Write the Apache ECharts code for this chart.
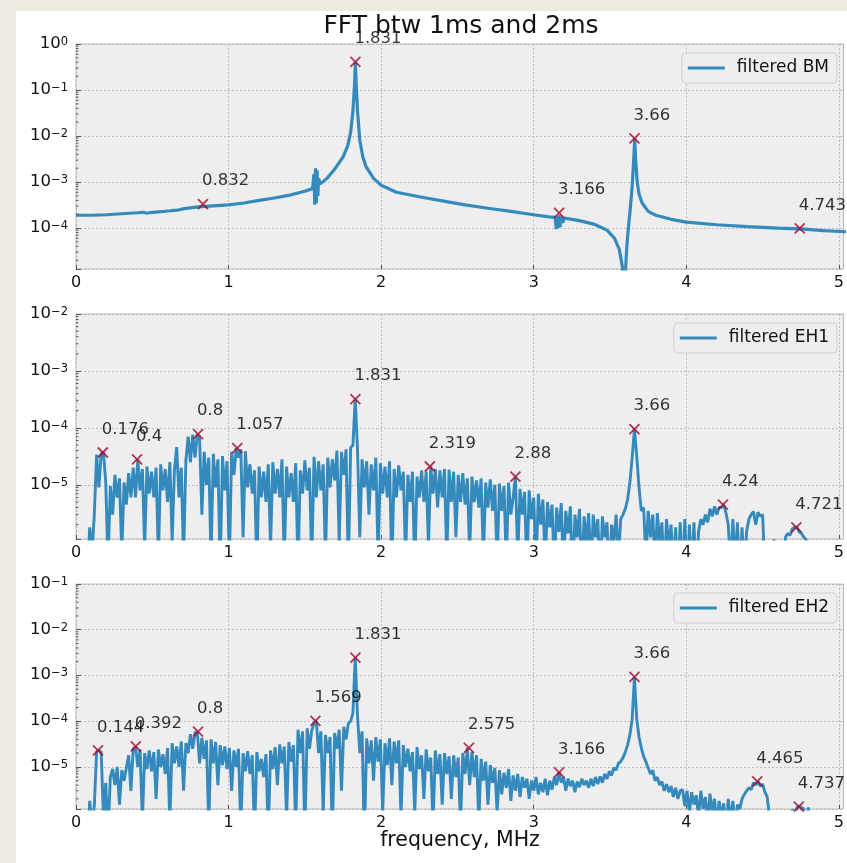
<!DOCTYPE html>
<html><head><meta charset="utf-8">
<script src="https://cdn.jsdelivr.net/npm/echarts@6/dist/echarts.min.js"></script>
<style>
html,body{margin:0;padding:0;background:#eeeae4;width:847px;height:863px;overflow:hidden;}
#paper{position:absolute;left:16px;top:11px;width:831px;height:852px;background:#ffffff;}
#c{position:absolute;left:0;top:0;width:847px;height:863px;}
</style>
</head><body><div id="paper"></div><div id="c"></div>
<script>
const FONT = 'DejaVu Sans';
const TITLE = 'FFT btw 1ms and 2ms';
const X_LABEL = 'frequency, MHz';
const SERIES_NAMES = ['filtered BM', 'filtered EH1', 'filtered EH2'];
const X_MIN = 0, X_MAX = 5.03, X_STEP = 1;
const Y_MIN = [1.29e-5, 1.12e-6, 1.2e-6];
const Y_MAX = [1, 1e-2, 1e-1];

// ---- BM (filtered): frequency (MHz) and amplitude
const bmFreq = [0,0.1,0.2,0.3,0.4,0.44,0.45,0.46,0.47,0.48,0.49,0.5,0.51,0.52,0.53,0.54,0.55,0.56,0.57,0.58,0.59,0.6,0.61,0.62,0.63,0.64,0.65,0.66,0.67,0.68,0.7,0.8,0.9,1.0,1.1,1.2,1.3,1.4,1.5,1.55,1.56,1.565,1.57,1.575,1.58,1.585,1.59,1.6,1.65,1.7,1.75,1.78,1.8,1.815,1.825,1.831,1.837,1.845,1.86,1.88,1.9,1.95,2.0,2.1,2.25,2.4,2.55,2.7,2.85,3.0,3.1,3.14,3.148,3.155,3.16,3.166,3.172,3.18,3.19,3.2,3.3,3.4,3.48,3.53,3.56,3.58,3.59,3.6,3.61,3.62,3.632,3.645,3.655,3.662,3.668,3.678,3.69,3.71,3.75,3.8,3.9,4.0,4.2,4.4,4.6,4.75,4.9,5.05];
const bmAmp = [1.9e-4,1.9e-4,1.95e-4,2.05e-4,2.15e-4,2.2e-4,2.32e-4,2.12e-4,2.3e-4,2.15e-4,2.35e-4,2.2e-4,2.4e-4,2.22e-4,2.42e-4,2.25e-4,2.45e-4,2.28e-4,2.48e-4,2.3e-4,2.5e-4,2.35e-4,2.52e-4,2.38e-4,2.55e-4,2.42e-4,2.58e-4,2.45e-4,2.6e-4,2.5e-4,2.62e-4,2.9e-4,3.05e-4,3.2e-4,3.5e-4,4.0e-4,4.5e-4,5.2e-4,6.3e-4,7.2e-4,1.5e-3,3.2e-4,2.0e-3,3.5e-4,1.8e-3,5e-4,1.2e-3,9e-4,1.25e-3,2.0e-3,3.5e-3,6e-3,1.2e-2,3.5e-2,0.12,0.41,0.12,3.5e-2,8e-3,3.5e-3,2.2e-3,1.2e-3,8.5e-4,6e-4,4.8e-4,3.9e-4,3.2e-4,2.7e-4,2.3e-4,1.95e-4,1.75e-4,1.7e-4,9.5e-5,1.8e-4,1.0e-4,1.9e-4,1.05e-4,1.75e-4,1.3e-4,1.65e-4,1.45e-4,1.2e-4,9e-5,6e-5,3.5e-5,1.5e-5,6e-6,1.0e-5,4e-5,1.0e-4,2.5e-4,8e-4,3e-3,8.9e-3,3e-3,1e-3,5.5e-4,3.5e-4,2.3e-4,1.9e-4,1.55e-4,1.35e-4,1.18e-4,1.08e-4,1.0e-4,9.6e-5,8.8e-5,8.3e-5];
const bmPeakFreq = [0.832, 1.831, 3.166, 3.66, 4.743];
const bmPeakAmp = [3.3e-4, 0.41, 2.15e-4, 8.9e-3, 9.8e-5];
const bmPeakLabel = ['0.832', '1.831', '3.166', '3.66', '4.743'];

// ---- EH spectra: FFT bins k*0.015 MHz starting at bin 5; amplitudes in units of 1e-7
const EH_BIN0 = 5, EH_BIN_WIDTH = 0.015, EH_UNIT = 1e-7;
const eh1Amp = [
3,18,6,30,340,90,350,370,110,4,95,30,150,60,130,6,110,45,160,60,
200,60,280,80,190,8,210,70,170,60,200,5,230,80,190,50,250,10,180,460,
60,200,5,260,700,250,760,300,780,650,30,380,100,300,5,350,90,280,3,320,
80,260,4,380,150,440,300,420,12,390,90,230,70,180,3,210,60,170,50,230,
8,250,70,190,60,280,4,210,60,160,50,240,3,180,70,270,80,200,4,310,
60,260,80,230,5,300,90,280,120,400,10,380,150,420,3,450,500,3200,420,12,
280,90,260,30,230,80,300,5,240,70,210,60,260,3,190,60,220,80,170,5,
150,50,170,3,140,60,180,50,170,8,210,70,190,40,180,60,190,5,185,50,
170,12,150,50,160,45,130,6,140,50,120,40,130,5,110,40,125,35,100,4,
105,35,95,4,110,30,60,140,5,85,30,75,3,80,25,60,3,70,20,55,
4,50,18,45,3,40,15,48,3,35,14,42,2,30,12,38,2,28,10,32,
3,30,12,25,2,28,12,22,2,20,10,30,5,25,30,38,55,110,300,950,
320,90,35,40,5,35,12,30,4,32,10,22,2,25,8,20,3,18,2,22,
2,25,2,20,3,22,2,15,25,20,30,22,38,28,42,30,40,40,45,32,
20,3,25,4,22,2,18,3,15,25,30,34,20,33,28,30,3,2,2,2,
11,3,2,2,2,12,14,13,17,18,18,15,14,12,11,3,2,2,2,2,
2,2,2,2,2,2,2,2,2,2];
const eh1PeakFreq = [0.176, 0.4, 0.8, 1.057, 1.831, 2.319, 2.88, 3.66, 4.24, 4.721];
const eh1PeakAmp = [3.7e-5, 2.8e-5, 7.8e-5, 4.4e-5, 3.2e-4, 2.1e-5, 1.4e-5, 9.5e-5, 4.5e-6, 1.8e-6];
const eh1PeakLabel = ['0.176', '0.4', '0.8', '1.057', '1.831', '2.319', '2.88', '3.66', '4.24', '4.721'];

const eh2Amp = [
3,18,5,14,215,230,210,8,45,3,60,90,40,100,15,85,50,95,180,30,
250,280,100,240,6,200,90,230,80,210,20,240,100,190,70,260,6,330,120,280,
100,360,30,330,200,520,250,560,590,120,430,150,380,5,400,120,350,40,300,110,
280,90,260,30,230,100,250,4,200,80,220,70,180,3,210,80,150,60,190,3,
230,90,270,40,310,120,280,8,350,130,300,5,650,200,600,3,700,250,620,900,
1020,200,600,10,500,200,450,3,550,250,650,30,750,400,900,1000,1500,24500,1300,200,
600,2,420,120,380,50,450,130,400,10,330,110,420,40,360,120,380,8,300,100,
250,80,210,10,270,90,180,20,240,80,160,5,230,70,190,15,200,70,170,20,
180,60,160,5,200,70,260,40,210,60,180,6,150,50,130,15,110,45,95,10,
85,25,75,35,90,18,65,30,70,22,60,35,55,20,50,30,60,25,45,28,
55,24,50,32,60,40,76,45,60,30,55,38,50,28,48,36,55,40,50,35,
55,38,60,42,62,45,70,55,80,65,95,85,120,130,160,210,300,500,1100,9300,
1100,450,260,170,130,95,70,85,50,60,40,48,30,42,28,38,22,35,20,30,
32,14,30,10,28,15,24,8,30,12,22,6,26,10,20,5,18,8,16,4,
20,6,18,5,15,12,20,25,30,35,32,45,40,48,38,42,28,22,8,3,
2,2,2,2,2,2,2,2,12,6,13,14,13,12,5,13,3,2,2,2,
2,2,2,2,2,2,2,2,2,2];
const eh2PeakFreq = [0.144, 0.392, 0.8, 1.569, 1.831, 2.575, 3.166, 3.66, 4.465, 4.737];
const eh2PeakAmp = [2.3e-5, 2.8e-5, 5.9e-5, 1.02e-4, 2.45e-3, 2.6e-5, 7.6e-6, 9.3e-4, 4.8e-6, 1.35e-6];
const eh2PeakLabel = ['0.144', '0.392', '0.8', '1.569', '1.831', '2.575', '3.166', '3.66', '4.465', '4.737'];

// ---- build
const zipXY = (xs, ys) => xs.map((x, i) => [x, ys[i]]);
const ehPairs = (amp) => amp.map((a, i) => [+((EH_BIN0 + i) * EH_BIN_WIDTH).toFixed(3), a * EH_UNIT]);

const lines = [zipXY(bmFreq, bmAmp), ehPairs(eh1Amp), ehPairs(eh2Amp)];
const peaks = [
  {f: bmPeakFreq, a: bmPeakAmp, l: bmPeakLabel},
  {f: eh1PeakFreq, a: eh1PeakAmp, l: eh1PeakLabel},
  {f: eh2PeakFreq, a: eh2PeakAmp, l: eh2PeakLabel}
];

const LINE_COLOR = '#348ABD', MARK_COLOR = '#A60628', TXT = '#000000';
const GRID_TOPS = [44, 314, 584], GRID_H = 225;
const LEGEND_TOPS = [53, 323, 593];

function logLabel(v) {
  const e = Math.log10(v), r = Math.round(e);
  if (Math.abs(e - r) > 1e-6) return '';
  return '{b|10}{s|' + (r < 0 ? '\u2212' + (-r) : String(r)) + '}';
}
// log minor tick positions (2..9 x 10^n) inside the axis range
function minorTicks(lo, hi) {
  const out = [];
  for (let e = Math.floor(Math.log10(lo)); e <= Math.ceil(Math.log10(hi)); e++) {
    for (let m = 2; m <= 9; m++) {
      const v = m * Math.pow(10, e);
      if (v > lo && v < hi) out.push([X_MIN, v]);
    }
  }
  return out;
}

const grids = [], xAxes = [], yAxes = [], series = [], legends = [];
for (let i = 0; i < 3; i++) {
  grids.push({left: 76, width: 769, top: GRID_TOPS[i], height: GRID_H, show: true,
    backgroundColor: '#eeeeee', borderColor: '#bcbcbc', borderWidth: 1});
  xAxes.push({gridIndex: i, type: 'value', min: X_MIN, max: X_MAX, interval: X_STEP,
    axisLine: {show: false},
    axisTick: {show: true, inside: true, length: 4, lineStyle: {color: '#555'}},
    axisLabel: {formatter: v => (Math.abs(v - Math.round(v)) < 1e-9 ? String(Math.round(v)) : ''),
      fontSize: 16, color: '#111', fontFamily: FONT, margin: 6, showMaxLabel: false},
    splitLine: {show: true, lineStyle: {color: '#b2b2b2', type: [2, 2], width: 0.8}}});
  yAxes.push({gridIndex: i, type: 'log', logBase: 10, min: Y_MIN[i], max: Y_MAX[i],
    axisLine: {show: false},
    axisTick: {show: true, inside: true, length: 5, lineStyle: {color: '#555'}},
    axisLabel: {formatter: logLabel, margin: 8, color: '#111',
      rich: {
        b: {fontSize: 16.5, fontFamily: FONT, color: '#111', lineHeight: 16, verticalAlign: 'bottom', padding: [2, 0, 0, 0]},
        s: {fontSize: 11.5, fontFamily: FONT, color: '#111', lineHeight: 11, verticalAlign: 'top'}
      }},
    splitLine: {show: true, lineStyle: {color: '#b2b2b2', type: [2, 2], width: 0.8}}});
  series.push({type: 'line', name: SERIES_NAMES[i], xAxisIndex: i, yAxisIndex: i,
    data: lines[i], showSymbol: false, symbol: 'none', clip: true, animation: false,
    lineStyle: {width: i === 0 ? 3.2 : 2.9, color: LINE_COLOR}, itemStyle: {color: LINE_COLOR},
    emphasis: {disabled: true}, z: 2});
  const pk = peaks[i];
  series.push({type: 'scatter', name: 'peaks' + i, xAxisIndex: i, yAxisIndex: i,
    data: zipXY(pk.f, pk.a), symbol: 'path://M0,0L10,10M10,0L0,10', symbolSize: 10,
    itemStyle: {color: 'rgba(0,0,0,0)', borderColor: MARK_COLOR, borderWidth: 1.8},
    label: {show: true, position: 'inside', align: 'left', verticalAlign: 'middle', offset: [-1, -23],
      formatter: (p => pk.l[p.dataIndex]), fontSize: 16.5, color: TXT, fontFamily: FONT,
      textBorderWidth: 0, textShadowBlur: 0},
    emphasis: {disabled: true}, animation: false, clip: false, z: 4});
  series.push({type: 'custom', name: 'minor' + i, xAxisIndex: i, yAxisIndex: i, silent: true,
    data: minorTicks(Y_MIN[i], Y_MAX[i]), clip: false, animation: false, z: 3,
    renderItem: (params, api) => {
      const p = api.coord([api.value(0), api.value(1)]);
      return {type: 'line', shape: {x1: p[0], y1: p[1], x2: p[0] + 2.5, y2: p[1]},
        style: {stroke: '#555', lineWidth: 1}};
    }});
  legends.push({data: [SERIES_NAMES[i]], right: 10, top: LEGEND_TOPS[i], orient: 'horizontal',
    icon: 'rect', itemWidth: 37, itemHeight: 3, selectedMode: false,
    backgroundColor: '#eeeeee', borderColor: '#d0d0d0', borderWidth: 1, borderRadius: 4,
    padding: [5, 8, 5, 6],
    textStyle: {fontSize: 17, color: '#111', fontFamily: FONT, padding: [0, 0, 0, 7], lineHeight: 20}});
}

const chart = echarts.init(document.getElementById('c'), null, {renderer: 'canvas'});
chart.setOption({
  backgroundColor: 'transparent',
  animation: false,
  grid: grids, xAxis: xAxes, yAxis: yAxes, series: series, legend: legends,
  graphic: [
    {type: 'text', x: 461, y: 26, z: 10, style: {text: TITLE, font: '25px "DejaVu Sans"', fill: '#111', align: 'center', verticalAlign: 'middle'}},
    {type: 'text', x: 460, y: 841, z: 10, style: {text: X_LABEL, font: '20.5px "DejaVu Sans"', fill: '#111', align: 'center', verticalAlign: 'middle'}}
  ]
});
</script>
</body></html>
